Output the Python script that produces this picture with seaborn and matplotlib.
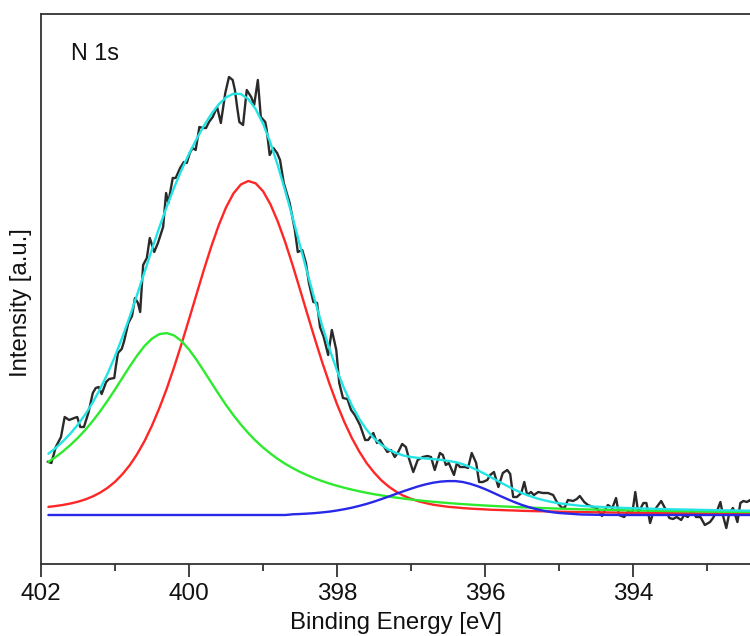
import numpy as np
import pandas as pd
import matplotlib
matplotlib.use("Agg")
import matplotlib.pyplot as plt
import seaborn as sns
from matplotlib.ticker import MultipleLocator

# measured N 1s spectrum (binding energy in eV, counts)
raw_energy = [
    401.91, 401.86, 401.80, 401.73, 401.68, 401.62, 401.55, 401.51, 401.47, 401.42,
    401.36, 401.30, 401.26, 401.22, 401.18, 401.12, 401.08, 401.01, 400.99, 400.96,
    400.91, 400.88, 400.82, 400.77, 400.73, 400.69, 400.66, 400.62, 400.57, 400.53,
    400.47, 400.42, 400.35, 400.31, 400.28, 400.22, 400.18, 400.12, 400.07, 400.03,
    399.99, 399.95, 399.91, 399.86, 399.81, 399.77, 399.73, 399.68, 399.62, 399.57,
    399.51, 399.46, 399.41, 399.38, 399.35, 399.32, 399.27, 399.22, 399.16, 399.12,
    399.07, 399.03, 398.97, 398.95, 398.91, 398.86, 398.81, 398.77, 398.72, 398.64,
    398.57, 398.53, 398.47, 398.42, 398.38, 398.32, 398.27, 398.23, 398.18, 398.12,
    398.07, 398.01, 397.97, 397.92, 397.86, 397.81, 397.76, 397.69, 397.62, 397.58,
    397.51, 397.46, 397.42, 397.38, 397.32, 397.27, 397.22, 397.18, 397.12, 397.07,
    397.03, 396.97, 396.91, 396.84, 396.78, 396.73, 396.68, 396.61, 396.57, 396.53,
    396.49, 396.42, 396.38, 396.34, 396.27, 396.23, 396.18, 396.12, 396.08, 396.03,
    395.97, 395.93, 395.88, 395.82, 395.76, 395.70, 395.66, 395.62, 395.57, 395.51,
    395.47, 395.43, 395.38, 395.34, 395.28, 395.22, 395.15, 395.08, 395.03, 394.96,
    394.92, 394.88, 394.81, 394.76, 394.72, 394.66, 394.61, 394.54, 394.49, 394.42,
    394.38, 394.34, 394.28, 394.23, 394.19, 394.12, 394.07, 394.01, 393.97, 393.93,
    393.86, 393.82, 393.77, 393.73, 393.68, 393.62, 393.57, 393.51, 393.46, 393.41,
    393.35, 393.31, 393.26, 393.20, 393.15, 393.09, 393.03, 392.96, 392.92, 392.86,
    392.82, 392.78, 392.74, 392.70, 392.65, 392.59, 392.55, 392.51, 392.46, 392.42,
    392.38,
]
raw_counts = [
    2533, 2520, 2680, 2780, 2980, 2950, 2970, 2980, 2880, 2880,
    3020, 3220, 3270, 3280, 3210, 3330, 3360, 3370, 3480, 3620,
    3660, 3730, 3920, 3990, 4170, 4120, 4030, 4500, 4570, 4770,
    4630, 4720, 4880, 5220, 5120, 5370, 5370, 5470, 5530, 5520,
    5620, 5670, 5650, 5880, 5870, 5870, 5930, 5980, 6080, 5920,
    6220, 6380, 6350, 6250, 6080, 5930, 5900, 6250, 6180, 6100,
    6350, 5980, 5930, 5850, 5600, 5670, 5620, 5550, 5320, 5120,
    4850, 4630, 4650, 4520, 4320, 4130, 4120, 3880, 3780, 3600,
    3850, 3650, 3320, 3170, 3160, 3050, 3000, 2900, 2750, 2750,
    2820, 2720, 2750, 2700, 2630, 2650, 2580, 2620, 2710, 2680,
    2570, 2430, 2550, 2580, 2590, 2580, 2450, 2620, 2600, 2500,
    2520, 2400, 2520, 2480, 2480, 2470, 2620, 2520, 2330, 2330,
    2350, 2400, 2430, 2280, 2420, 2450, 2410, 2180, 2180, 2220,
    2330, 2200, 2230, 2200, 2230, 2220, 2220, 2200, 2130, 2070,
    2080, 2150, 2140, 2160, 2190, 2130, 2100, 2080, 2070, 1990,
    2050, 2100, 2070, 2170, 2000, 1980, 2030, 2020, 2230, 2020,
    2120, 2120, 1920, 2020, 2080, 2140, 2070, 1970, 1960, 1980,
    1950, 2000, 1980, 2050, 1980, 1980, 1900, 1930, 1970, 2050,
    2130, 1980, 1870, 2020, 2070, 1930, 2120, 2140, 2130, 2150,
    2120,
]

# fitted components, read on a common energy grid
fit_energy = [
    401.9, 401.8, 401.7, 401.6, 401.5, 401.4, 401.3, 401.2, 401.1, 401.0,
    400.9, 400.8, 400.7, 400.6, 400.5, 400.4, 400.3, 400.2, 400.1, 400.0,
    399.9, 399.8, 399.7, 399.6, 399.5, 399.4, 399.3, 399.2, 399.1, 399.0,
    398.9, 398.8, 398.7, 398.6, 398.5, 398.4, 398.3, 398.2, 398.1, 398.0,
    397.9, 397.8, 397.7, 397.6, 397.5, 397.4, 397.3, 397.2, 397.1, 397.0,
    396.9, 396.8, 396.7, 396.6, 396.5, 396.4, 396.3, 396.2, 396.1, 396.0,
    395.9, 395.8, 395.7, 395.6, 395.5, 395.4, 395.3, 395.2, 395.1, 395.0,
    394.7, 394.4, 394.1, 393.8, 393.5, 393.2, 392.9, 392.6, 392.3,
]
peak_red = [
    2081, 2090, 2101, 2115, 2133, 2156, 2186, 2224, 2272, 2332,
    2408, 2499, 2610, 2741, 2895, 3070, 3266, 3482, 3714, 3957,
    4204, 4450, 4683, 4895, 5076, 5215, 5305, 5340, 5317, 5238,
    5107, 4934, 4728, 4498, 4254, 4006, 3762, 3527, 3308, 3107,
    2928, 2770, 2635, 2519, 2425, 2346, 2283, 2233, 2192, 2162,
    2137, 2119, 2103, 2092, 2082, 2076, 2069, 2064, 2060, 2056,
    2052, 2050, 2047, 2045, 2042, 2040, 2038, 2037, 2035, 2033,
    2029, 2026, 2023, 2021, 2018, 2017, 2015, 2014, 2013,
]
peak_green = [
    2531, 2581, 2638, 2702, 2773, 2852, 2941, 3038, 3143, 3255,
    3372, 3487, 3596, 3691, 3764, 3809, 3819, 3795, 3738, 3655,
    3553, 3441, 3325, 3210, 3100, 2998, 2905, 2820, 2743, 2675,
    2615, 2560, 2512, 2469, 2431, 2397, 2366, 2339, 2314, 2292,
    2272, 2254, 2237, 2222, 2208, 2196, 2184, 2174, 2164, 2155,
    2147, 2139, 2132, 2126, 2120, 2114, 2109, 2104, 2099, 2095,
    2091, 2087, 2084, 2080, 2077, 2074, 2071, 2069, 2066, 2064,
    2057, 2052, 2047, 2043, 2039, 2036, 2033, 2031, 2029,
]
peak_blue = [
    2000, 2000, 2000, 2000, 2000, 2000, 2000, 2000, 2000, 2000,
    2000, 2000, 2000, 2000, 2000, 2000, 2000, 2000, 2000, 2000,
    2000, 2000, 2000, 2000, 2000, 2000, 2000, 2000, 2000, 2000,
    2000, 2000, 2000, 2007, 2010, 2014, 2019, 2026, 2034, 2045,
    2058, 2073, 2091, 2111, 2134, 2159, 2185, 2212, 2238, 2263,
    2287, 2307, 2323, 2334, 2339, 2339, 2330, 2312, 2288, 2259,
    2226, 2192, 2159, 2128, 2100, 2077, 2057, 2041, 2029, 2020,
    2005, 2001, 2000, 2000, 2000, 2000, 2000, 2000, 2000,
]
envelope = [
    2612, 2671, 2739, 2817, 2906, 3008, 3127, 3262, 3415, 3587,
    3780, 3986, 4206, 4432, 4659, 4879, 5085, 5277, 5452, 5612,
    5757, 5891, 6008, 6105, 6176, 6213, 6210, 6160, 6060, 5913,
    5722, 5494, 5240, 4974, 4695, 4417, 4147, 3892, 3656, 3444,
    3258, 3097, 2963, 2852, 2767, 2701, 2652, 2619, 2594, 2580,
    2571, 2565, 2558, 2552, 2541, 2529, 2508, 2480, 2447, 2410,
    2369, 2329, 2290, 2253, 2219, 2191, 2166, 2147, 2130, 2117,
    2091, 2079, 2070, 2064, 2057, 2053, 2048, 2045, 2042,
]

sns.set_style("white")
plt.rcParams["font.family"] = ["Liberation Sans", "DejaVu Sans"]

fig = plt.figure(figsize=(7.5, 6.36), dpi=100)
ax = fig.add_axes([41 / 750, 72 / 636, 709 / 750, 550 / 636])

lw = 1.7
sns.lineplot(x=raw_energy, y=raw_counts, color="#2a2a2a", lw=lw,
             sort=False, estimator=None, ax=ax)
sns.lineplot(x=fit_energy, y=peak_red, color="#ff2626", lw=lw,
             sort=False, estimator=None, ax=ax)
sns.lineplot(x=fit_energy, y=peak_green, color="#2eea2e", lw=lw,
             sort=False, estimator=None, ax=ax)
sns.lineplot(x=fit_energy, y=peak_blue, color="#2828e8", lw=lw,
             sort=False, estimator=None, ax=ax)
sns.lineplot(x=fit_energy, y=envelope, color="#22e4e4", lw=lw,
             sort=False, estimator=None, ax=ax)

ax.set_xlim(402, 392.42)
ax.set_ylim(1510, 7010)
ax.xaxis.set_major_locator(MultipleLocator(2))
ax.xaxis.set_minor_locator(MultipleLocator(1))
ax.set_yticks([])

ax.tick_params(axis="x", which="major", bottom=True, direction="out",
               length=9, width=1.3, color="#333333", labelsize=17.5, pad=5,
               labelcolor="#111111")
ax.tick_params(axis="x", which="minor", bottom=True, direction="out",
               length=5, width=1.3, color="#333333")

ax.spines["right"].set_visible(False)
for side in ["top", "left", "bottom"]:
    ax.spines[side].set_color("#333333")
    ax.spines[side].set_linewidth(1.3)

ax.set_xlabel("Binding Energy [eV]", fontsize=17.3, color="#111111")
ax.set_ylabel("Intensity [a.u.]", fontsize=17.3, color="#111111")
ax.xaxis.set_label_coords(0.5, -0.087)
ax.yaxis.set_label_coords(-0.012, 0.475)

ax.text(0.042, 0.95, "N 1s", transform=ax.transAxes, fontsize=16.8,
        va="top", ha="left", color="#111111")

fig.savefig("out.png", dpi=100)
